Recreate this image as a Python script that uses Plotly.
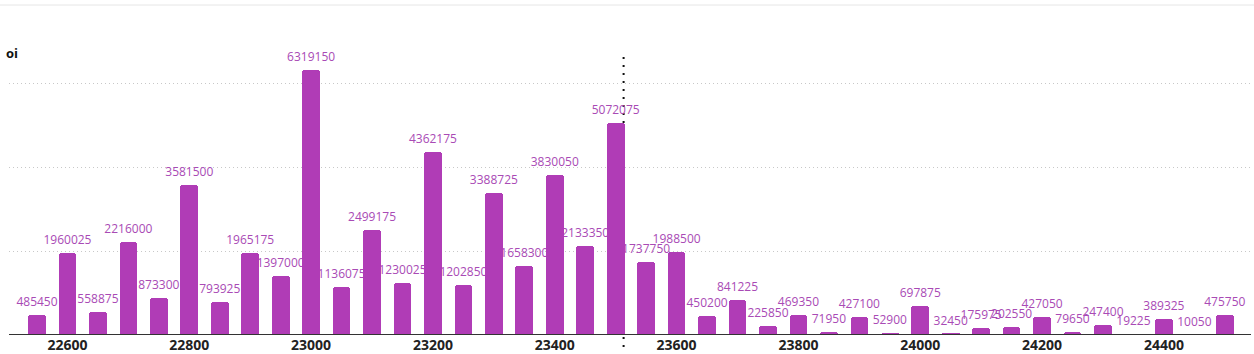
import plotly.graph_objects as go

strikes = [22550, 22600, 22650, 22700, 22750, 22800, 22850, 22900, 22950, 23000,
           23050, 23100, 23150, 23200, 23250, 23300, 23350, 23400, 23450, 23500,
           23550, 23600, 23650, 23700, 23750, 23800, 23850, 23900, 23950, 24000,
           24050, 24100, 24150, 24200, 24250, 24300, 24350, 24400, 24450, 24500]
oi = [485450, 1960025, 558875, 2216000, 873300, 3581500, 793925, 1965175, 1397000, 6319150,
      1136075, 2499175, 1230025, 4362175, 1202850, 3388725, 1658300, 3830050, 2133350, 5072075,
      1737750, 1988500, 450200, 841225, 225850, 469350, 71950, 427100, 52900, 697875,
      32450, 175975, 202550, 427050, 79650, 247400, 19225, 389325, 10050, 475750]
tick_vals = [22600, 22800, 23000, 23200, 23400, 23600, 23800, 24000, 24200, 24400]
tick_text = [str(v) for v in tick_vals]
grid_vals = [0, 2000000, 4000000, 6000000]
spot = 23513

bar_color = "#b03cb6"
label_color = "#a94ab5"
xr = [22504, 24543]
yr = [0, 6637000]

fig = go.Figure()
# labels first (main subplot), bars on overlay subplot drawn above them
fig.add_trace(go.Scatter(
    x=strikes, y=oi, mode="markers+text", text=[str(v) for v in oi],
    textposition="top center",
    marker=dict(size=8, opacity=0),
    textfont=dict(family="Open Sans", size=12, color=label_color),
    cliponaxis=False, hoverinfo="skip", showlegend=False,
))
fig.add_trace(go.Bar(
    x=strikes, y=oi, yaxis="y2", width=29,
    marker=dict(color=bar_color, cornerradius=3, line=dict(width=0)),
    showlegend=False,
))

fig.update_layout(
    width=1254, height=354,
    margin=dict(l=9, r=3, t=57, b=19),
    paper_bgcolor="white", plot_bgcolor="white",
    xaxis=dict(range=xr, tickvals=tick_vals, ticktext=tick_text, showgrid=False,
               zeroline=False, showline=False, ticks="", automargin=False,
               tickfont=dict(family="Open Sans", size=14, color="#222222", weight="bold")),
    yaxis=dict(range=yr, tickvals=grid_vals, showticklabels=False, showgrid=True,
               gridcolor="#c8c8c8", griddash="1px,3px", gridwidth=1, zeroline=False,
               showline=False, ticks="", automargin=False),
    yaxis2=dict(range=yr, overlaying="y", visible=False, showgrid=False),
    bargap=0,
    shapes=[
        dict(type="line", xref="x", yref="paper", x0=spot, x1=spot, y0=-0.043, y1=1,
             line=dict(color="#111111", width=2, dash="2px,6px"), layer="below"),
        dict(type="line", xref="paper", yref="y", x0=0, x1=1, y0=0, y1=0,
             line=dict(color="#333333", width=2), layer="above"),
        dict(type="line", xref="paper", yref="paper", x0=-9/1242, x1=1 + 3/1242,
             y0=1.187, y1=1.187, line=dict(color="#e6e6e6", width=1), layer="above"),
    ],
    annotations=[
        dict(text="oi", xref="paper", yref="paper", x=-5/1242, y=1.015,
             xanchor="left", yanchor="middle", showarrow=False,
             font=dict(family="Open Sans", size=13, color="#111111", weight="bold")),
    ],
)

fig.write_html("out.html")
